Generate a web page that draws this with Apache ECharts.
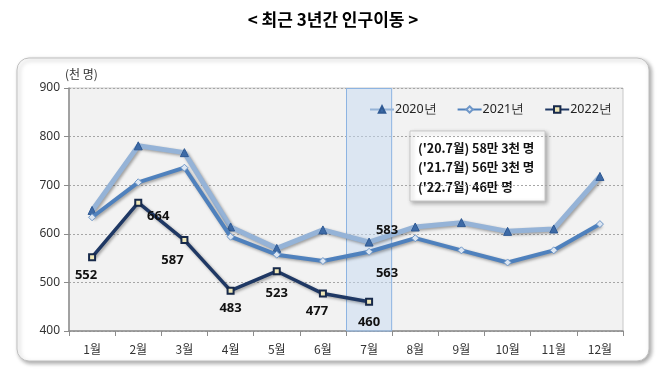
<!DOCTYPE html>
<html><head><meta charset="utf-8">
<script src="https://cdn.jsdelivr.net/npm/echarts@6/dist/echarts.min.js"></script>
<style>html,body{margin:0;padding:0;background:#fff}#c{width:666px;height:391px}</style>
</head><body><div id="c"></div>
<script>
const months = ['1월','2월','3월','4월','5월','6월','7월','8월','9월','10월','11월','12월'];
const y2020 = [648, 781, 767, 614, 570, 608, 583, 614, 623, 605, 610, 718];
const y2021 = [634, 706, 736, 594, 557, 544, 563, 591, 566, 541, 566, 620];
const y2022 = [552, 664, 587, 483, 523, 477, 460];
const highlightMonth = '7월';
const seriesNames = ['2020년','2021년','2022년'];
const noteLines = ["('20.7월) 58만 3천 명", "('21.7월) 56만 3천 명", "('22.7월) 46만 명"];

const FONT = 'Noto Sans CJK KR';
const lbl = {show:true, fontSize:13, fontWeight:'bold', color:'#111', fontFamily:'Noto Sans'};
const off2022 = [[-6,18],[20,14],[-12,20],[0,18],[0,22],[-6,18],[0,20]];

const chart = echarts.init(document.getElementById('c'), null, {renderer:'canvas'});
chart.setOption({
  animation:false,
  title:{text:'< 최근 3년간 인구이동 >', left:'center', top:6,
    textStyle:{fontFamily:FONT, fontSize:17, fontWeight:'bold', color:'#000'}},
  legend:{data:seriesNames, left:364, top:98, itemWidth:24, itemHeight:8, itemGap:20,
    textStyle:{fontFamily:'Noto Sans', fontSize:12.5, color:'#222', padding:[0,0,0,-4]}},
  grid:{left:69, right:43, top:88, bottom:60, show:true, backgroundColor:'#f2f2f2', borderColor:'#c8c8c8', borderWidth:1},
  xAxis:{type:'category', data:months, boundaryGap:true,
    axisLine:{lineStyle:{color:'#8c8c8c', width:1.5}},
    axisTick:{show:true, length:5, lineStyle:{color:'#8c8c8c'}},
    axisLabel:{fontFamily:FONT, fontSize:12, color:'#333', margin:12}},
  yAxis:{type:'value', min:400, max:900, interval:100, name:'(천 명)',
    nameGap:8, nameTextStyle:{fontFamily:FONT, fontSize:12, color:'#333', align:'left', padding:[0,0,0,-4]},
    axisLine:{show:true, lineStyle:{color:'#8c8c8c', width:1.5}},
    axisTick:{show:true, length:5, lineStyle:{color:'#8c8c8c'}},
    axisLabel:{fontFamily:'Noto Sans', fontSize:12, color:'#333', margin:9},
    splitLine:{lineStyle:{color:'#a6a6a6', type:[2,2], width:1}}},
  graphic:[
    {type:'rect', z:-10, shape:{x:17, y:58, width:632, height:303, r:12},
      style:{fill:'#fff', stroke:'#c0c0c0', lineWidth:1, shadowBlur:4, shadowOffsetX:2, shadowOffsetY:2, shadowColor:'rgba(0,0,0,0.35)'}},
    {type:'group', z:50, children:[
      {type:'rect', shape:{x:410, y:131, width:135, height:70},
        style:{fill:'#fff', stroke:'#c8c8c8', lineWidth:1, shadowBlur:4, shadowOffsetX:2, shadowOffsetY:2, shadowColor:'rgba(0,0,0,0.3)'}},
      ...noteLines.map((t,i)=>({type:'text', x:418, y:148+i*19.5,
        style:{text:t, font:'bold 12.5px "Noto Sans CJK KR"', fill:'#111', textVerticalAlign:'middle'}}))
    ]}
  ],
  series:[
    {name:'band', type:'bar', barWidth:'100%', silent:true, z:0,
      data:months.map(m=> m===highlightMonth ? 900 : '-'),
      itemStyle:{color:'rgba(197,217,241,0.5)', borderColor:'#8db4e2', borderWidth:1}},
    {name:seriesNames[0], type:'line', z:3,
      symbol:'triangle', symbolSize:8,
      lineStyle:{color:'#95b3d7', width:5, shadowBlur:3, shadowOffsetX:1.5, shadowOffsetY:1.5, shadowColor:'rgba(0,0,0,0.35)'},
      itemStyle:{color:'#3d6aa6', borderColor:'#2f5a94', borderWidth:1},
      label:{show:false},
      data:y2020.map((v,i)=> i===6 ? {value:v, label:{...lbl, position:'top', offset:[18,4]}} : v)},
    {name:seriesNames[1], type:'line', z:4,
      symbol:'diamond', symbolSize:7,
      lineStyle:{color:'#4f81bd', width:4, shadowBlur:3, shadowOffsetX:1.5, shadowOffsetY:1.5, shadowColor:'rgba(0,0,0,0.35)'},
      itemStyle:{color:'#dce6f2', borderColor:'#6f97c8', borderWidth:1},
      label:{show:false},
      data:y2021.map((v,i)=> i===6 ? {value:v, label:{...lbl, position:'bottom', offset:[18,6]}} : v)},
    {name:seriesNames[2], type:'line', z:5,
      symbol:'rect', symbolSize:6,
      lineStyle:{color:'#1f3864', width:3.5, shadowBlur:3, shadowOffsetX:1.5, shadowOffsetY:1.5, shadowColor:'rgba(0,0,0,0.35)'},
      itemStyle:{color:'#efe7b8', borderColor:'#17294a', borderWidth:2},
      data:y2022.map((v,i)=>({value:v, label:{...lbl, position:'inside', offset:off2022[i]}}))}
  ]
});
</script></body></html>
